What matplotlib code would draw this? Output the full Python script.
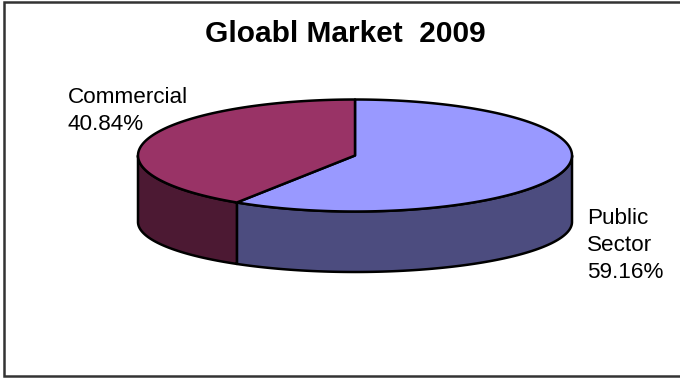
import numpy as np
import matplotlib
matplotlib.use('Agg')
import matplotlib.pyplot as plt
from matplotlib.patches import Polygon

title = 'Gloabl Market  2009'
labels = ['Public\nSector', 'Commercial']
values = [59.16, 40.84]
top_colors = ['#9999FF', '#993366']
side_colors = ['#4C4C7F', '#4C1933']

plt.rcParams['font.family'] = ['Liberation Sans', 'DejaVu Sans']

fig = plt.figure(figsize=(6.8, 3.78), dpi=100)
ax = fig.add_axes([0, 0, 1, 1])
ax.set_xlim(0, 680)
ax.set_ylim(378, 0)
ax.axis('off')

# chart frame (right edge is cut off in the original)
ax.plot([680, 4, 4, 680], [2, 2, 375.5, 375.5], color='#333333', lw=1.8,
        solid_joinstyle='miter')

# pie geometry (pixels): top ellipse and bottom ellipse (perspective)
cx = 355
cy_top, b_top = 155.5, 56
cy_bot, b_bot = 222, 50
a = 217

def top_pt(t):
    return cx + a * np.cos(t), cy_top - b_top * np.sin(t)

def bot_pt(t):
    return cx + a * np.cos(t), cy_bot - b_bot * np.sin(t)

fracs = np.array(values) / np.sum(values)
# clockwise from 12 o'clock
start = 90.0
angles = []
for f in fracs:
    end = start - f * 360
    angles.append((end, start))
    start = end

# sides (front half only: 180..360 deg)
for (t1, t2), col in zip(angles, side_colors):
    lo = t1 % 360
    hi = lo + (t2 - t1)
    segs = []
    for base in (0, 360, -360):
        s = max(lo, 180 + base)
        e = min(hi, 360 + base)
        if e > s:
            segs.append((s, e))
    for s, e in segs:
        tt = np.radians(np.linspace(s, e, 120))
        xt, yt = top_pt(tt)
        xb, yb = bot_pt(tt[::-1])
        pts = np.column_stack([np.concatenate([xt, xb]), np.concatenate([yt, yb])])
        ax.add_patch(Polygon(pts, closed=True, facecolor=col, edgecolor='black',
                             lw=1.8, joinstyle='round'))

# top faces
for (t1, t2), col in zip(angles, top_colors):
    tt = np.radians(np.linspace(t1, t2, 200))
    xt, yt = top_pt(tt)
    pts = np.column_stack([np.concatenate([[cx], xt]), np.concatenate([[cy_top], yt])])
    ax.add_patch(Polygon(pts, closed=True, facecolor=col, edgecolor='black',
                         lw=1.8, joinstyle='round'))

ax.text(345, 42, title, ha='center', va='baseline', fontsize=21.5, fontweight='bold')

ax.text(68, 87, '{}\n{:.2f}%'.format(labels[1], values[1]), ha='left', va='top',
        fontsize=16.2, linespacing=1.39)
ax.text(587, 208, '{}\n{:.2f}%'.format(labels[0], values[0]), ha='left', va='top',
        fontsize=16.2, linespacing=1.39)

fig.savefig('out.png', dpi=100)
